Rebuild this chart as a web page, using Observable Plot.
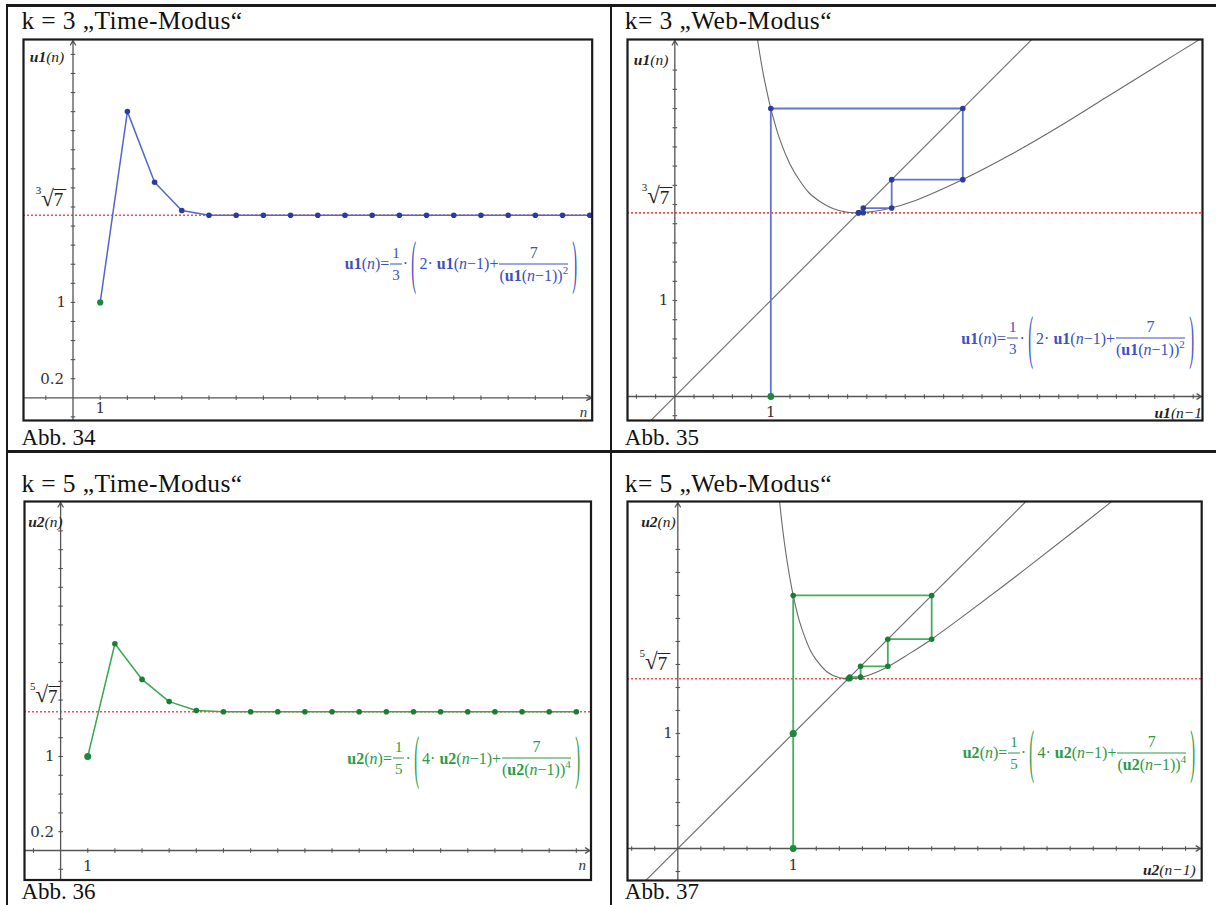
<!DOCTYPE html>
<html><head><meta charset="utf-8">
<script src="https://cdn.jsdelivr.net/npm/d3@7"></script>
<script src="https://cdn.jsdelivr.net/npm/@observablehq/plot@0.6"></script>
<style>
html,body{margin:0;padding:0;background:#fff}
#page{position:relative;width:1216px;height:905px;overflow:hidden;background:#fff;font-family:"Liberation Serif","Times New Roman",serif;color:#111}
.line{position:absolute;background:#1a1a1a}
.title{position:absolute;font-size:25.5px;line-height:25px;white-space:nowrap;letter-spacing:0.4px}
.cap{position:absolute;font-size:23px;line-height:18px;white-space:nowrap}
.panel{position:absolute}
.panel svg{position:absolute;left:0;top:0;overflow:visible}
.ov{position:absolute;white-space:nowrap;line-height:1;font-family:"Liberation Serif",serif}
.aname{font-size:15.5px;color:#222;transform:translate(-100%,-50%)}
.root{display:flex;align-items:flex-start;color:#222;transform:translate(-100%,-50%)}
.root .idx{font-size:11px;margin-top:-2px}
.root .rad{font-size:23px;line-height:24px}
.root .vin{font-size:19px;line-height:18px;border-top:1.2px solid #222;margin-top:2.5px;padding:1px 3px 0 0}
.formula{display:flex;align-items:center;font-size:16px;transform:translateY(-50%)}
.formula span{white-space:pre}
.frac{display:inline-flex;flex-direction:column;align-items:center;margin:0 1px}
.frac .num{border-bottom:1.3px solid currentColor;padding:0 2px 3px;align-self:stretch;text-align:center}
.frac .den{padding-top:3px}
.frac.small{font-size:15px}
.paren{display:inline-block;transform:scale(0.9,3.7);margin:0 3px}
.formula sup{font-size:11px;position:relative;top:-7px;vertical-align:baseline;line-height:0}
</style></head><body><div id="page"></div>
<script>
// ---------- data ----------
const titles = ["k = 3 „Time-Modus“", "k= 3 „Web-Modus“", "k = 5 „Time-Modus“", "k= 5 „Web-Modus“"];
const captions = ["Abb. 34", "Abb. 35", "Abb. 36", "Abb. 37"];
const nIdx = [1,2,3,4,5,6,7,8,9,10,11,12,13,14,15,16,17,18,19];
const u1 = [1, 3, 2.259, 1.963, 1.914, 1.913, 1.913, 1.913, 1.913, 1.913, 1.913, 1.913, 1.913, 1.913, 1.913, 1.913, 1.913, 1.913, 1.913];
const u2 = [1, 2.2, 1.82, 1.584, 1.49, 1.476, 1.476, 1.476, 1.476, 1.476, 1.476, 1.476, 1.476, 1.476, 1.476, 1.476, 1.476, 1.476, 1.476];
const fixed1 = 1.913;  // cube root of 7
const fixed2 = 1.476;  // fifth root of 7
const web1X = [1, 1, 3, 3, 2.259, 2.259, 1.963, 1.963, 1.914, 1.914];
const web1Y = [0, 3, 3, 2.259, 2.259, 1.963, 1.963, 1.914, 1.914, 1.913];
const web2X = [1, 1, 2.2, 2.2, 1.82, 1.82, 1.584, 1.584, 1.49, 1.49, 1.476];
const web2Y = [0, 2.2, 2.2, 1.82, 1.82, 1.584, 1.584, 1.49, 1.49, 1.476, 1.476];
const curve1X = [0.85, 0.875, 0.9, 0.925, 0.95, 1, 1.1, 1.2, 1.3, 1.4, 1.5, 1.6, 1.7, 1.8, 1.9, 2.0, 2.2, 2.5, 3.0, 3.5, 4.0, 4.5, 5.0, 5.5];
const curve1Y = [3.80, 3.63, 3.48, 3.34, 3.22, 3.00, 2.66, 2.42, 2.25, 2.12, 2.04, 1.98, 1.94, 1.92, 1.913, 1.92, 1.95, 2.04, 2.26, 2.52, 2.81, 3.12, 3.43, 3.74];
const curve2X = [0.85, 0.875, 0.9, 0.925, 0.95, 0.975, 1, 1.05, 1.1, 1.15, 1.2, 1.3, 1.4, 1.5, 1.6, 1.8, 2.0, 2.2, 2.5, 3.0, 3.5, 4.0];
const curve2Y = [3.36, 3.09, 2.85, 2.65, 2.48, 2.33, 2.20, 1.99, 1.84, 1.72, 1.64, 1.53, 1.484, 1.477, 1.49, 1.57, 1.69, 1.82, 2.04, 2.42, 2.81, 3.21];
const diag = [-1, 6];
const formula1 = {u: "u1", a: "2", c: "3", p: "2"};
const formula2 = {u: "u2", a: "4", c: "5", p: "4"};

// ---------- styles ----------
const RED = "#ff4a4a", GRAY = "#6a6a6a", AXIS = "#555";
const BLUE = {line: "#5365cc", dot: "#2a3c9e", web: "#6275d3", text: "#3d50bf"};
const GREEN = {line: "#3ca653", dot: "#1a7d34", web: "#45ad5b", text: "#2c9a46"};
const START = "#1b8a3c";
const M = 2;
const vTick = {draw(ctx, size) { const r = Math.sqrt(size / Math.PI); ctx.moveTo(0, -r); ctx.lineTo(0, r); }};
const hTick = {draw(ctx, size) { const r = Math.sqrt(size / Math.PI); ctx.moveTo(-r, 0); ctx.lineTo(r, 0); }};
const steps = (a, b, s) => d3.range(Math.round(a / s), Math.round(b / s) + 1).map(i => +(i * s).toFixed(3)).filter(d => d !== 0);

const panels = [
  {mode: "time", left: 23.3, right: 592, top: 39, bottom: 420, xd: [-1.82, 19.09], yd: [-0.238, 3.756],
   xTicks: steps(-1, 19, 1), yTicks: steps(-0.2, 3.6, 0.2), series: u1, col: BLUE, fixed: fixed1, idx: "3",
   rootDx: -6.5, yName: {html: "<i><b>u1</b>(n)</i>", dx: -8.5, dy: 18},
   yLabels: [{v: 1, t: "1", dx: -7}, {v: 0.2, t: "0.2", dx: -9}], xLab: {v: 1, t: "1", dy: 10},
   xName: {t: "n", dx: -5, dy: -3}, formula: formula1, fx: 10.0, fy: 1.40},
  {mode: "web", left: 627, right: 1202, top: 39, bottom: 420, xd: [-0.493, 5.497], yd: [-0.25, 3.719],
   xTicks: steps(-0.4, 5.4, 0.2), yTicks: steps(-0.2, 3.4, 0.2), webX: web1X, webY: web1Y, curveX: curve1X, curveY: curve1Y,
   extra: [], col: BLUE, fixed: fixed1, idx: "3",
   rootDx: -2, yName: {html: "<i><b>u1</b>(n)</i>", dx: -6, dy: 21},
   yLabels: [{v: 1, t: "1", dx: -6.5}], xLab: {v: 1, t: "1", dy: 16},
   xNameHtml: {html: "<i><b>u1</b>(n−1</i>", dx: 0, dy: -7}, formula: formula1, fx: 2.99, fy: 0.604},
  {mode: "time", left: 23.5, right: 590, top: 501, bottom: 879.5, xd: [-1.33, 19.54], yd: [-0.314, 3.713],
   xTicks: steps(-1, 19, 1), yTicks: steps(-0.2, 3.4, 0.2), series: u2, col: GREEN, fixed: fixed2, idx: "5",
   rootDx: 1, yName: {html: "<i><b>u2</b>(n)</i>", dx: 3, dy: 21},
   yLabels: [{v: 1, t: "1", dx: -6}, {v: 0.2, t: "0.2", dx: -6.5}], xLab: {v: 1, t: "1", dy: 16},
   xName: {t: "n", dx: -5, dy: -10}, formula: formula2, fx: 10.6, fy: 0.976},
  {mode: "web", left: 627.4, right: 1201.6, top: 501, bottom: 880, xd: [-0.436, 4.54], yd: [-0.278, 3.017],
   xTicks: steps(-0.4, 4.4, 0.2), yTicks: steps(-0.2, 2.6, 0.2), webX: web2X, webY: web2Y, curveX: curve2X, curveY: curve2Y,
   extra: [[1, 1]], col: GREEN, fixed: fixed2, idx: "5",
   rootDx: -7.5, yName: {html: "<i><b>u2</b>(n)</i>", dx: -2, dy: 21},
   yLabels: [{v: 1, t: "1", dx: -5}], xLab: {v: 1, t: "1", dy: 16.5},
   xNameHtml: {html: "<i><b>u2</b>(n−1)</i>", dx: -6, dy: -10}, formula: formula2, fx: 2.47, fy: 0.829}
];

const page = document.getElementById("page");
function addDiv(parent, cls, style, html) {
  const d = document.createElement("div");
  d.className = cls; d.setAttribute("style", style);
  if (html != null) d.innerHTML = html;
  parent.appendChild(d); return d;
}
function formulaHTML(f) {
  return `<span><b>${f.u}</b>(<i>n</i>)=</span><span class="frac small"><span class="num">1</span><span class="den">${f.c}</span></span><span>·</span><span class="paren">(</span><span>${f.a}· <b>${f.u}</b>(<i>n</i>−1)+</span><span class="frac"><span class="num">7</span><span class="den">(<b>${f.u}</b>(<i>n</i>−1))<sup>${f.p}</sup></span></span><span class="paren">)</span>`;
}

// table lines
addDiv(page, "line", "left:6px;top:4px;width:1210px;height:2.7px");
addDiv(page, "line", "left:6px;top:4px;width:2.3px;height:901px");
addDiv(page, "line", "left:609.5px;top:4px;width:2.7px;height:901px");
addDiv(page, "line", "left:6px;top:450px;width:1210px;height:2.7px");

const tpos = [[21.4, 8], [624.8, 8], [21.4, 470.8], [624.8, 470.8]];
const cpos = [[21.4, 429.2], [624.8, 429.2], [21.4, 883], [624.8, 883]];
titles.forEach((t, i) => addDiv(page, "title", `left:${tpos[i][0]}px;top:${tpos[i][1]}px`).textContent = t);
captions.forEach((t, i) => addDiv(page, "cap", `left:${cpos[i][0]}px;top:${cpos[i][1]}px`).textContent = t);

function build(p) {
  const W = p.right - p.left + 2 * M, H = p.bottom - p.top + 2 * M;
  const [x0, x1] = p.xd, [y0, y1] = p.yd;
  const marks = [Plot.ruleY([p.fixed], {stroke: RED, strokeWidth: 1.6, strokeDasharray: "2,2"})];
  if (p.mode === "web") {
    marks.push(Plot.line(diag, {x: d => d, y: d => d, stroke: GRAY, strokeWidth: 1.1, clip: true}));
    marks.push(Plot.line(p.curveX, {x: d => d, y: (d, i) => p.curveY[i], curve: "catmull-rom", stroke: GRAY, strokeWidth: 1.1, clip: true}));
  }
  const arrowOpts = {x1: "a", y1: "b", x2: "c", y2: "d", stroke: AXIS, strokeWidth: 1.3, headLength: 6, insetEnd: 1};
  marks.push(Plot.arrow([{a: x0, b: 0, c: x1, d: 0}], arrowOpts));
  marks.push(Plot.arrow([{a: 0, b: y0, c: 0, d: y1}], arrowOpts));
  marks.push(Plot.dot(p.xTicks, {x: d => d, y: 0, symbol: vTick, r: 2.3, stroke: AXIS, strokeWidth: 1.1, fill: "none"}));
  marks.push(Plot.dot(p.yTicks, {x: 0, y: d => d, symbol: hTick, r: 2.3, stroke: AXIS, strokeWidth: 1.1, fill: "none"}));
  if (p.mode === "time") {
    marks.push(Plot.line(nIdx, {x: d => d, y: (d, i) => p.series[i], stroke: p.col.line, strokeWidth: 1.5}));
    marks.push(Plot.dot(nIdx.slice(1), {x: d => d, y: (d, i) => p.series[i + 1], r: 2.8, fill: p.col.dot}));
    marks.push(Plot.dot(nIdx.slice(0, 1), {x: d => d, y: () => p.series[0], r: p.col === GREEN ? 3.5 : 3.1, fill: START}));
  } else {
    marks.push(Plot.line(p.webX, {x: d => d, y: (d, i) => p.webY[i], stroke: p.col.web, strokeWidth: 1.8}));
    marks.push(Plot.dot(p.webX.slice(1), {x: d => d, y: (d, i) => p.webY[i + 1], r: 2.8, fill: p.col.dot}));
    marks.push(Plot.dot(p.extra, {x: d => d[0], y: d => d[1], r: 3.6, fill: START}));
    marks.push(Plot.dot(p.webX.slice(0, 1), {x: d => d, y: () => p.webY[0], r: 3.4, fill: START}));
  }
  for (const l of p.yLabels)
    marks.push(Plot.text([l], {x: 0, y: "v", text: "t", textAnchor: "end", dx: l.dx, fontFamily: "DejaVu Serif", fontSize: 15, fill: "#333"}));
  marks.push(Plot.text([p.xLab], {x: "v", y: 0, text: "t", dy: p.xLab.dy, fontFamily: "DejaVu Serif", fontSize: 15, fill: "#333"}));
  if (p.xName)
    marks.push(Plot.text([p.xName.t], {frameAnchor: "bottom-right", dx: p.xName.dx, dy: p.xName.dy, fontStyle: "italic", fontFamily: "Liberation Serif", fontSize: 15, fill: "#333"}));
  marks.push(Plot.frame({stroke: "#1a1a1a", strokeWidth: 2.2}));

  const svg = Plot.plot({
    width: W, height: H, margin: M,
    x: {domain: p.xd, axis: null}, y: {domain: p.yd, axis: null},
    style: {background: "transparent", overflow: "visible"},
    marks
  });
  const wrap = addDiv(page, "panel", `left:${p.left - M}px;top:${p.top - M}px;width:${W}px;height:${H}px`);
  wrap.appendChild(svg);
  const sx = svg.scale("x"), sy = svg.scale("y");
  const ax = sx.apply(0);
  addDiv(wrap, "ov aname", `left:${ax + p.yName.dx}px;top:${sy.apply(y1) + p.yName.dy}px`, p.yName.html);
  if (p.xNameHtml)
    addDiv(wrap, "ov aname", `left:${sx.apply(x1) + p.xNameHtml.dx}px;top:${sy.apply(y0) + p.xNameHtml.dy}px`, p.xNameHtml.html);
  addDiv(wrap, "ov root", `left:${ax + p.rootDx}px;top:${sy.apply(p.fixed) - 16}px`,
    `<span class="idx">${p.idx}</span><span class="rad">√</span><span class="vin">7</span>`);
  addDiv(wrap, "ov formula", `left:${sx.apply(p.fx)}px;top:${sy.apply(p.fy)}px;color:${p.col.text}`, formulaHTML(p.formula));
}
panels.forEach(build);
</script></body></html>
